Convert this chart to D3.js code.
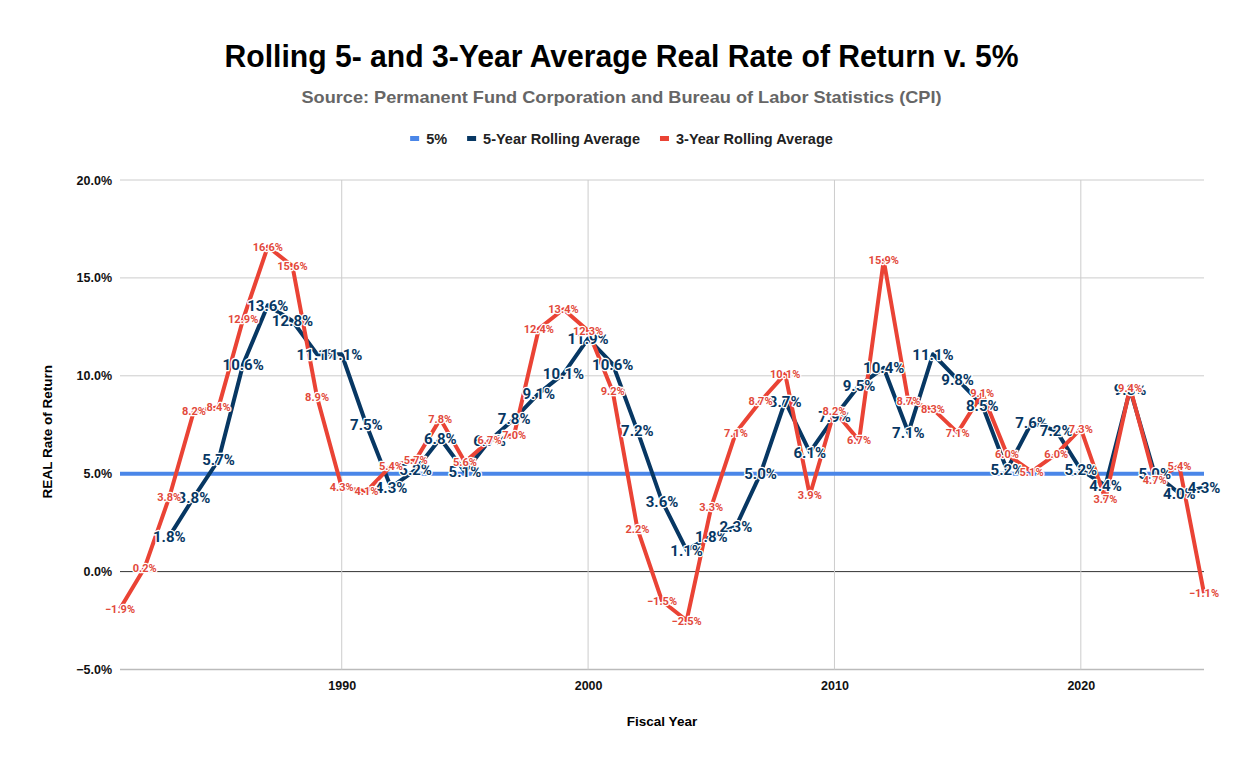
<html><head>
<meta charset="utf-8">
<title>Rolling 5- and 3-Year Average Real Rate of Return v. 5%</title>
<script src="https://d3js.org/d3.v7.min.js"></script>
<style>
  body { margin: 0; background: #fff; }
  text { font-family: "Liberation Sans", Arial, sans-serif; }
  .lbl { font-family: Roboto, "Liberation Sans", sans-serif; font-weight: bold;
         paint-order: stroke; stroke: #fff; stroke-width: 2.5px; stroke-linejoin: round; }
</style>
</head>
<body>
<div id="chart"></div>
<script>

// data
var threeYears = d3.range(1981, 2026);
var threeYear = [-1.9, 0.2, 3.8, 8.2, 8.4, 12.9, 16.6, 15.6, 8.9, 4.3,
                 4.1, 5.4, 5.7, 7.8, 5.6, 6.7, 7.0, 12.4, 13.4, 12.3,
                 9.2, 2.2, -1.5, -2.5, 3.3, 7.1, 8.7, 10.1, 3.9, 8.2,
                 6.7, 15.9, 8.7, 8.3, 7.1, 9.1, 6.0, 5.1, 6.0, 7.3,
                 3.7, 9.4, 4.7, 5.4, -1.1];
var fiveYears = d3.range(1983, 2026);
var fiveYear = [1.8, 3.8, 5.7, 10.6, 13.6, 12.8, 11.1, 11.1, 7.5, 4.3,
                5.2, 6.8, 5.1, 6.7, 7.8, 9.1, 10.1, 11.9, 10.6, 7.2,
                3.6, 1.1, 1.8, 2.3, 5.0, 8.7, 6.1, 7.9, 9.5, 10.4,
                7.1, 11.1, 9.8, 8.5, 5.2, 7.6, 7.2, 5.2, 4.4, 9.3,
                5.0, 4.0, 4.3];
var target = 5;
var xTicks = [1990, 2000, 2010, 2020];
var yTicks = [-5, 0, 5, 10, 15, 20];

var W = 1243, H = 768;
var pLeft = 120, pRight = 1204, pTop = 180, pBottom = 669.5;

var svg = d3.select("#chart").append("svg")
    .attr("width", W).attr("height", H);

var x = d3.scaleLinear().domain([1981, 2025]).range([pLeft, pRight]);
var y = d3.scaleLinear().domain([-5, 20]).range([pBottom, pTop]);

// title + subtitle
svg.append("text")
    .attr("x", W / 2).attr("y", 67)
    .attr("text-anchor", "middle")
    .attr("textLength", 794).attr("lengthAdjust", "spacingAndGlyphs")
    .style("font-size", "31px").style("font-weight", "bold")
    .text("Rolling 5- and 3-Year Average Real Rate of Return v. 5%");

svg.append("text")
    .attr("x", W / 2).attr("y", 103)
    .attr("text-anchor", "middle")
    .attr("textLength", 640).attr("lengthAdjust", "spacingAndGlyphs")
    .style("font-size", "17px").style("font-weight", "bold").style("fill", "#666")
    .text("Source: Permanent Fund Corporation and Bureau of Labor Statistics (CPI)");

// legend
var legend = [["5%", "#4a86e8"], ["5-Year Rolling Average", "#073763"], ["3-Year Rolling Average", "#ea4335"]];
var lg = svg.append("g");
var lx = 0;
legend.forEach(function(d) {
  lg.append("rect").attr("x", lx).attr("y", -3).attr("width", 9).attr("height", 5).attr("fill", d[1]);
  var t = lg.append("text").attr("x", lx + 16).attr("y", 5)
      .style("font-size", "14.5px").style("font-weight", "bold").style("fill", "#222")
      .text(d[0]);
  lx += 16 + t.node().getComputedTextLength() + 20;
});
lx -= 20;
lg.attr("transform", "translate(" + (W / 2 - lx / 2) + ",139)");

// grid
svg.append("g").selectAll("line").data(yTicks).join("line")
    .attr("x1", pLeft).attr("x2", pRight)
    .attr("y1", function(d) { return y(d); }).attr("y2", function(d) { return y(d); })
    .attr("stroke", function(d) { return d === 0 ? "#333" : (d === -5 ? "#bbb" : "#ccc"); })
    .attr("stroke-width", function(d) { return d === -5 ? 1.5 : 1; });

svg.append("g").selectAll("line").data(xTicks).join("line")
    .attr("x1", function(d) { return x(d); }).attr("x2", function(d) { return x(d); })
    .attr("y1", pTop).attr("y2", pBottom)
    .attr("stroke", "#ccc");

// axes labels
var yAxis = d3.axisLeft(y).tickValues(yTicks).tickSize(0).tickPadding(8)
    .tickFormat(function(d) { return d3.format(".1f")(d) + "%"; });
svg.append("g").attr("transform", "translate(" + pLeft + ",0)").call(yAxis)
  .call(function(g) {
    g.select(".domain").remove();
    g.selectAll("text").style("font-size", "12.5px").style("font-weight", "bold")
      .style("font-family", "'Liberation Sans', Arial, sans-serif").attr("fill", "#111");
  });

var xAxis = d3.axisBottom(x).tickValues(xTicks).tickSize(0).tickPadding(12)
    .tickFormat(d3.format("d"));
svg.append("g").attr("transform", "translate(0," + pBottom + ")").call(xAxis)
  .call(function(g) {
    g.select(".domain").remove();
    g.selectAll("text").style("font-size", "12.5px").style("font-weight", "bold")
      .style("font-family", "'Liberation Sans', Arial, sans-serif").attr("fill", "#111");
  });

svg.append("text")
    .attr("x", (pLeft + pRight) / 2).attr("y", 726)
    .attr("text-anchor", "middle")
    .style("font-size", "13.5px").style("font-weight", "bold")
    .text("Fiscal Year");

svg.append("text")
    .attr("transform", "translate(52," + ((pTop + pBottom) / 2 + 7) + ") rotate(-90)")
    .attr("text-anchor", "middle")
    .style("font-size", "13.5px").style("font-weight", "bold")
    .text("REAL Rate of Return");

// lines
var line = d3.line()
    .x(function(d) { return x(d[0]); })
    .y(function(d) { return y(d[1]); });

var five = fiveYears.map(function(yr, i) { return [yr, fiveYear[i]]; });
var three = threeYears.map(function(yr, i) { return [yr, threeYear[i]]; });

svg.append("path")
    .datum([[1981, target], [2025, target]])
    .attr("fill", "none").attr("stroke", "#4a86e8").attr("stroke-width", 4)
    .attr("d", line);

svg.append("path")
    .datum(five)
    .attr("fill", "none").attr("stroke", "#073763").attr("stroke-width", 4)
    .attr("stroke-linejoin", "round")
    .attr("d", line);

svg.append("path")
    .datum(three)
    .attr("fill", "none").attr("stroke", "#ea4335").attr("stroke-width", 4)
    .attr("stroke-linejoin", "round")
    .attr("d", line);

// data labels
var pct = function(d) { return d3.format(".1f")(d[1]) + "%"; };

svg.append("g").selectAll("text").data(five).join("text")
    .attr("class", "lbl")
    .attr("x", function(d) { return x(d[0]); })
    .attr("y", function(d) { return y(d[1]) + 5.5; })
    .attr("text-anchor", "middle")
    .style("font-size", "15px").style("fill", "#073763")
    .text(pct);

svg.append("g").selectAll("text").data(three).join("text")
    .attr("class", "lbl")
    .attr("x", function(d) { return x(d[0]); })
    .attr("y", function(d) { return y(d[1]) + 4; })
    .attr("text-anchor", "middle")
    .style("font-size", "11px").style("fill", "#e2493b")
    .text(pct);

</script>
</body></html>
